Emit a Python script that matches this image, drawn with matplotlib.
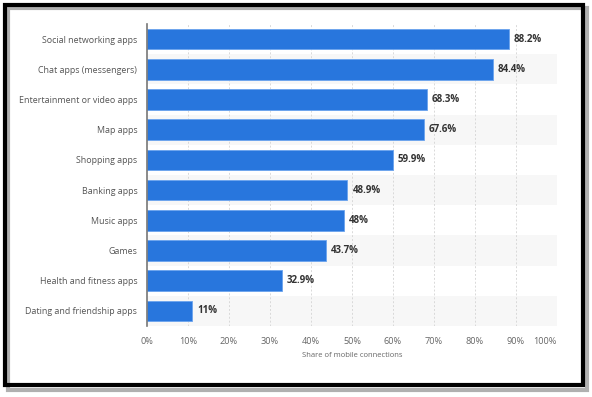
import matplotlib
matplotlib.use("Agg")
import matplotlib.pyplot as plt
from matplotlib.patches import Rectangle

categories = ["Social networking apps", "Chat apps (messengers)", "Entertainment or video apps",
              "Map apps", "Shopping apps", "Banking apps", "Music apps", "Games",
              "Health and fitness apps", "Dating and friendship apps"]
values = [88.2, 84.4, 68.3, 67.6, 59.9, 48.9, 48, 43.7, 32.9, 11]
value_labels = ["88.2%", "84.4%", "68.3%", "67.6%", "59.9%", "48.9%", "48%", "43.7%", "32.9%", "11%"]
xticks = [0, 10, 20, 30, 40, 50, 60, 70, 80, 90, 100]
xtick_labels = ["0%", "10%", "20%", "30%", "40%", "50%", "60%", "70%", "80%", "90%", "100%"]

plt.rcParams['font.family'] = ['Open Sans', 'DejaVu Sans']

W, H = 592, 397
fig = plt.figure(figsize=(W/100, H/100), dpi=100)
ax = fig.add_axes([147/W, 1-326/H, (557-147)/W, (326-24)/H])

n = len(categories)
ys = list(range(n))
for i in ys:
    if i % 2 == 1:
        ax.axhspan(i-0.5, i+0.5, color="#f7f7f7", zorder=0, lw=0)
for x in xticks[1:]:
    ax.axvline(x, color="#d9d9d9", lw=0.7, ls=(0, (2, 2)), zorder=1)

ax.barh(ys, values, height=0.68, color="#2876dd", edgecolor="#6aa3ee", linewidth=0.6, zorder=2)
for y, v, lab in zip(ys, values, value_labels):
    ax.text(v + 1.2, y, lab, va="center", ha="left", fontsize=7, fontweight="bold", color="#333333", zorder=3)

ax.set_ylim(n-0.5, -0.5)
ax.set_xlim(0, 100)
ax.set_yticks(ys)
ax.set_yticklabels(categories, fontsize=6.4, color="#555555")
ax.set_xticks(xticks)
ax.set_xticklabels(xtick_labels, fontsize=6.6, color="#666666")
ax.get_xticklabels()[-1].set_ha("right")
ax.tick_params(axis="both", length=0)
ax.tick_params(axis="y", pad=7)
ax.tick_params(axis="x", pad=8)
for s in ["top", "right", "bottom"]:
    ax.spines[s].set_visible(False)
ax.spines["left"].set_color("#777777")
ax.spines["left"].set_linewidth(1.2)
ax.set_xlabel("Share of mobile connections", fontsize=5.5, color="#666666", labelpad=4)
ax.set_facecolor("white")

# shadow and black frame
fig.patches.append(Rectangle((8/W, 1-390/H), (587-8)/W, (390-8)/H, transform=fig.transFigure,
                             fill=False, edgecolor="#b0b0b0", lw=3, zorder=0))
fig.patches.append(Rectangle((5/W, 1-385/H), (583-5)/W, (385-5)/H, transform=fig.transFigure,
                             fill=False, edgecolor="black", lw=3, zorder=1))

fig.savefig("out.png", dpi=100)
